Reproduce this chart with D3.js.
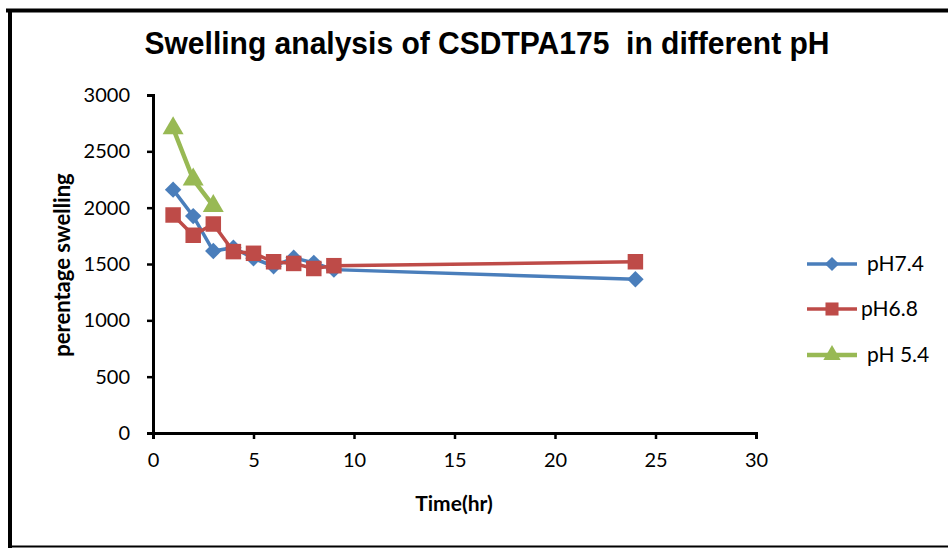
<!DOCTYPE html>
<html>
<head>
<meta charset="utf-8">
<script src="https://cdn.jsdelivr.net/npm/d3@7"></script>
<style>
  body { margin: 0; background: #fff; }
  text { font-family: Lato, "Open Sans", sans-serif; }
</style>
</head>
<body>
<div id="container"></div>
<script>
// chart size
var svg_width = 948
var svg_height = 548

// data
var hoursA = [1, 2, 3, 4, 5, 6, 7, 8, 9, 24]
var ph74 = [2160, 1925, 1615, 1645, 1550, 1480, 1555, 1510, 1450, 1365]
var ph68 = [1935, 1755, 1855, 1610, 1595, 1520, 1505, 1460, 1485, 1520]
var hoursB = [1, 2, 3]
var ph54 = [2705, 2250, 2015]

var seriesNames = ["pH7.4", "pH6.8", "pH 5.4"]
var seriesColors = ["#4a7ebb", "#be4b48", "#98b954"]
var xTicks = [0, 5, 10, 15, 20, 25, 30]
var yTicks = [0, 500, 1000, 1500, 2000, 2500, 3000]

// diamond = rotated square, like the excel marker
var diamond = {
    draw: function(ctx, size){
        var r = Math.sqrt(size / 2)
        ctx.moveTo(0, -r); ctx.lineTo(r, 0); ctx.lineTo(0, r); ctx.lineTo(-r, 0); ctx.closePath()
    }
}

var series = [
    {name: seriesNames[0], color: seriesColors[0], shape: diamond, size: 135, lsize: 100, width: 3.5, xs: hoursA, ys: ph74},
    {name: seriesNames[1], color: seriesColors[1], shape: d3.symbolSquare, size: 240, lsize: 170, width: 3.5, xs: hoursA, ys: ph68},
    {name: seriesNames[2], color: seriesColors[2], shape: d3.symbolTriangle, size: 190, lsize: 130, width: 4.5, xs: hoursB, ys: ph54}
]

var svg = d3.select("#container")
    .append("svg")
    .attr("width", svg_width)
    .attr("height", svg_height)

// outer frame
svg.append("line").attr("x1", 6).attr("x2", 948).attr("y1", 10.5).attr("y2", 10.5)
    .attr("stroke", "#000").attr("stroke-width", 4)
svg.append("line").attr("x1", 10).attr("x2", 10).attr("y1", 9).attr("y2", 548)
    .attr("stroke", "#000").attr("stroke-width", 4)
svg.append("line").attr("x1", 8).attr("x2", 948).attr("y1", 546.5).attr("y2", 546.5)
    .attr("stroke", "#000").attr("stroke-width", 2)

// title
svg.append("text")
    .attr("x", 487).attr("y", 54)
    .attr("text-anchor", "middle")
    .attr("textLength", 685)
    .attr("lengthAdjust", "spacingAndGlyphs")
    .style("font-family", "'Liberation Sans', Arial, sans-serif")
    .style("font-weight", "bold")
    .style("font-size", "31px")
    .style("white-space", "pre")
    .text("Swelling analysis of CSDTPA175  in different pH")

// scales
var x = d3.scaleLinear().domain([0, 30]).range([153, 756])
var y = d3.scaleLinear().domain([0, 3000]).range([433, 95])

// y axis
var yAxis = svg.append("g")
    .attr("transform", "translate(153,0)")
    .call(d3.axisLeft(y).tickValues(yTicks).tickSize(6).tickPadding(17).tickFormat(d3.format("d")))
yAxis.select(".domain").attr("stroke-width", 3)
yAxis.selectAll(".tick line").attr("stroke-width", 2.5)
yAxis.selectAll("text").style("font-size", "20px").attr("fill", "#000")

// x axis
var xAxis = svg.append("g")
    .attr("transform", "translate(0,433)")
    .call(d3.axisBottom(x).tickValues(xTicks).tickSize(6).tickPadding(14))
xAxis.select(".domain").attr("stroke-width", 3)
xAxis.selectAll(".tick line").attr("stroke-width", 2.5)
xAxis.selectAll("text").style("font-size", "20px").attr("fill", "#000")

// axis titles
svg.append("text")
    .attr("transform", "translate(70,265) rotate(-90)")
    .attr("text-anchor", "middle")
    .style("font-weight", "bold")
    .style("font-size", "22px")
    .text("perentage swelling")

svg.append("text")
    .attr("x", 454).attr("y", 511)
    .attr("text-anchor", "middle")
    .style("font-weight", "bold")
    .style("font-size", "21px")
    .text("Time(hr)")

// lines and markers
var line = d3.line()
    .x(d => x(d[0]))
    .y(d => y(d[1]))

series.forEach(function(s){
    var pts = s.xs.map((v, k) => [v, s.ys[k]])
    svg.append("path")
        .datum(pts)
        .attr("d", line)
        .attr("fill", "none")
        .attr("stroke", s.color)
        .attr("stroke-width", s.width)
    svg.append("g")
        .selectAll("path")
        .data(pts)
        .enter()
        .append("path")
        .attr("d", d3.symbol().type(s.shape).size(s.size))
        .attr("transform", d => "translate(" + x(d[0]) + "," + y(d[1]) + ")")
        .attr("fill", s.color)
})

// legend
var legendY = [264, 309, 355]
var legendTextX = [867, 861, 867]
series.forEach(function(s, i){
    var g = svg.append("g")
    g.append("line")
        .attr("x1", 807).attr("x2", 857)
        .attr("y1", legendY[i]).attr("y2", legendY[i])
        .attr("stroke", s.color).attr("stroke-width", s.width)
    g.append("path")
        .attr("d", d3.symbol().type(s.shape).size(s.lsize))
        .attr("transform", "translate(832," + legendY[i] + ")")
        .attr("fill", s.color)
    g.append("text")
        .attr("x", legendTextX[i]).attr("y", legendY[i] + 7)
        .style("font-size", "21px")
        .text(s.name)
})
</script>
</body>
</html>
